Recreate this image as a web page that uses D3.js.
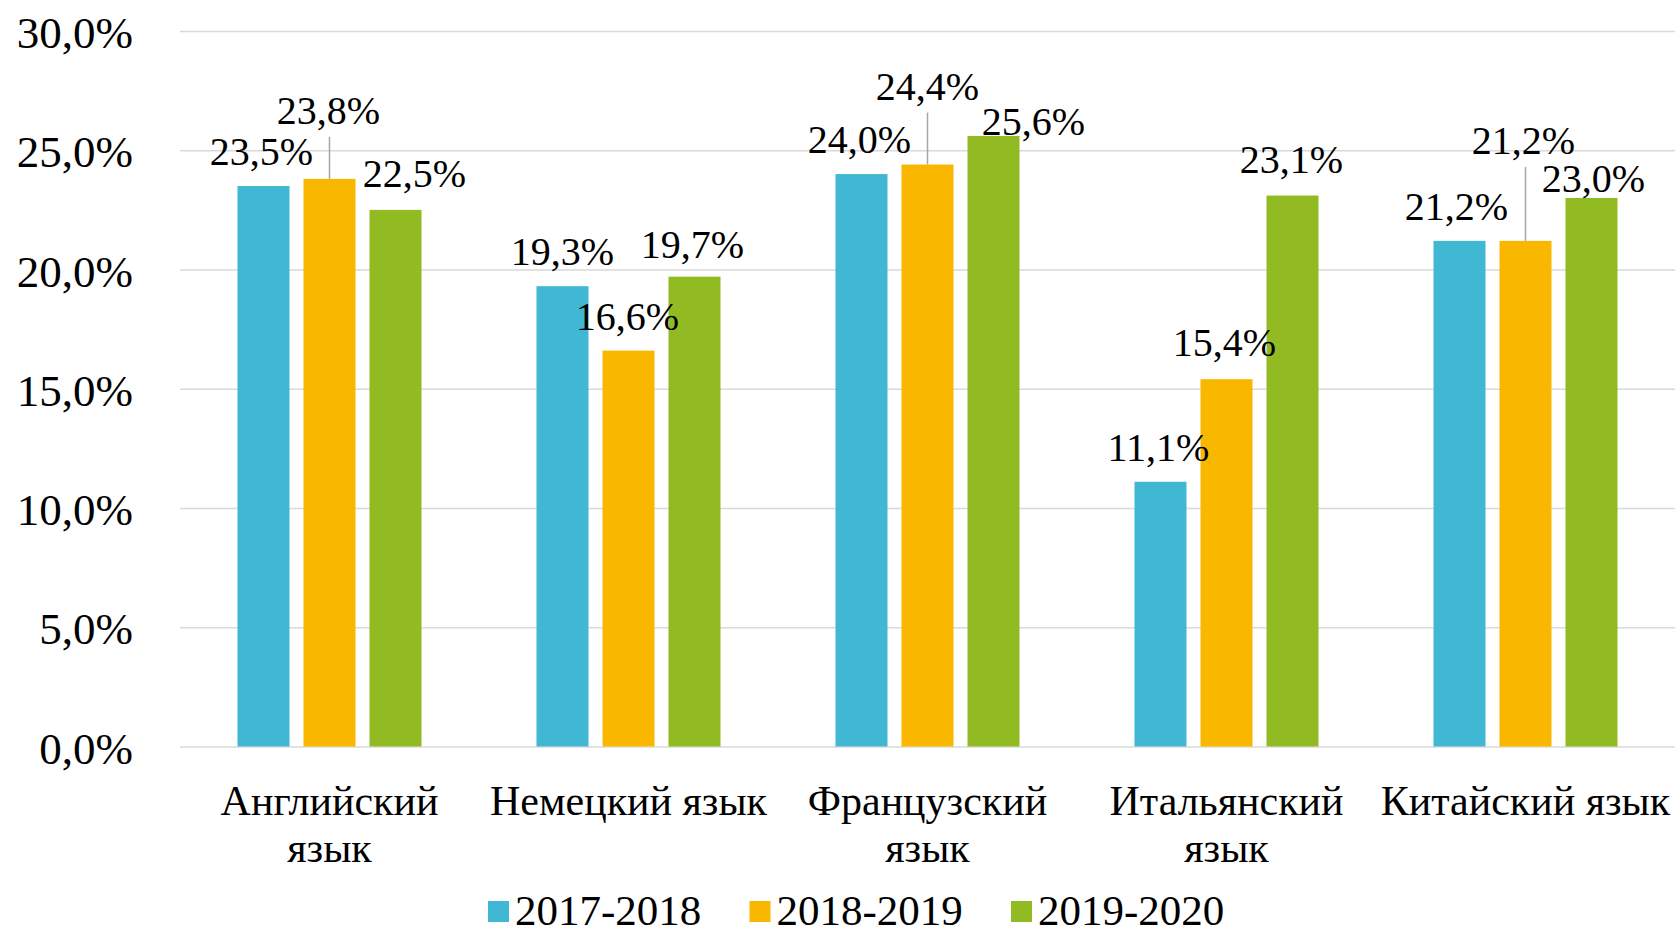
<!DOCTYPE html>
<html>
<head>
<meta charset="utf-8">
<script src="https://cdn.jsdelivr.net/npm/d3@7"></script>
<style>
  body { margin: 0; background: #fff; }
  text { font-family: "Liberation Serif", "Times New Roman", serif; fill: #000; }
</style>
</head>
<body>
<div class="chart"></div>
<script>
// data
var categories = [
  ["Английский", "язык"],
  ["Немецкий язык"],
  ["Французский", "язык"],
  ["Итальянский", "язык"],
  ["Китайский язык"]
];
var seriesNames = ["2017-2018", "2018-2019", "2019-2020"];
var values2017 = [0.235, 0.193, 0.240, 0.111, 0.212];
var values2018 = [0.238, 0.166, 0.244, 0.154, 0.212];
var values2019 = [0.225, 0.197, 0.256, 0.231, 0.230];
var yTicks = [0, 0.05, 0.10, 0.15, 0.20, 0.25, 0.30];

var colors = ["#41b8d3", "#f9b700", "#92bb23"];

// manual label moves (dx, dy) as in the original, per series / category
var labelMoves = [
  [[-2, 0], [0, 0], [-2, 0], [-2, 0], [-3, 0]],
  [[-1, -34], [-1, 0], [0, -44], [-2, -2], [-2, -66]],
  [[19, -2], [-2, 2], [40, 20], [-1, -2], [2, 15]]
];

var svgWidth = 1677, svgHeight = 936;
var margin = { top: 31, right: 2, bottom: 189.5, left: 180 };
var width = svgWidth - margin.left - margin.right;
var height = svgHeight - margin.top - margin.bottom;

var ru = d3.formatLocale({ decimal: ",", thousands: " ", grouping: [3], currency: ["", " ₽"] });
var pct = ru.format(".1%");

var svg = d3.select(".chart").append("svg")
  .attr("width", svgWidth)
  .attr("height", svgHeight);

var chartGroup = svg.append("g")
  .attr("transform", `translate(${margin.left}, ${margin.top})`);

var yScale = d3.scaleLinear().domain([0, 0.30]).range([height, 0]);

var x0 = d3.scaleBand()
  .domain(d3.range(categories.length))
  .range([0, width])
  .padding(0);

var x1 = d3.scaleBand()
  .domain(d3.range(seriesNames.length))
  .range([0, x0.bandwidth()])
  .paddingInner(0.212)
  .paddingOuter(0.871);

// y axis + gridlines
var yAxis = d3.axisLeft(yScale)
  .tickValues(yTicks)
  .tickSize(-width)
  .tickPadding(47)
  .tickFormat(pct);

var yG = chartGroup.append("g").call(yAxis);
yG.select(".domain").remove();
yG.selectAll(".tick line").attr("stroke", "#d9d9d9").attr("stroke-width", 1.6);
yG.selectAll(".tick text")
  .attr("font-family", "Liberation Serif, Times New Roman, serif")
  .attr("font-size", 45)
  .attr("fill", "#000")
  .attr("dy", "0.37em");

var series = [values2017, values2018, values2019];

var rows = [];
series.forEach(function(vals, s) {
  vals.forEach(function(v, c) {
    rows.push({ s: s, c: c, v: v });
  });
});

// bars
chartGroup.selectAll(".bar")
  .data(rows)
  .enter()
  .append("rect")
  .attr("class", "bar")
  .attr("x", d => x0(d.c) + x1(d.s))
  .attr("y", d => yScale(d.v))
  .attr("width", x1.bandwidth())
  .attr("height", d => height - yScale(d.v))
  .attr("fill", d => colors[d.s]);

// leader lines for moved labels
chartGroup.selectAll(".leader")
  .data(rows.filter(d => labelMoves[d.s][d.c][1] < -20))
  .enter()
  .append("line")
  .attr("class", "leader")
  .attr("x1", d => x0(d.c) + x1(d.s) + x1.bandwidth() / 2)
  .attr("x2", d => x0(d.c) + x1(d.s) + x1.bandwidth() / 2)
  .attr("y1", d => yScale(d.v) - 21 + labelMoves[d.s][d.c][1] + 13)
  .attr("y2", d => yScale(d.v))
  .attr("stroke", "#a6a6a6")
  .attr("stroke-width", 1.5);

// data labels
chartGroup.selectAll(".vlabel")
  .data(rows)
  .enter()
  .append("text")
  .attr("class", "vlabel")
  .attr("text-anchor", "middle")
  .attr("font-size", 40)
  .attr("x", d => x0(d.c) + x1(d.s) + x1.bandwidth() / 2 + labelMoves[d.s][d.c][0])
  .attr("y", d => yScale(d.v) - 21 + labelMoves[d.s][d.c][1])
  .text(d => pct(d.v));

// category labels
var catText = chartGroup.selectAll(".cat")
  .data(categories)
  .enter()
  .append("text")
  .attr("class", "cat")
  .attr("text-anchor", "middle")
  .attr("font-size", 42)
  .attr("x", (d, i) => x0(i) + x0.bandwidth() / 2)
  .attr("y", height + 68);

catText.selectAll("tspan")
  .data(d => d)
  .enter()
  .append("tspan")
  .attr("x", function() { return d3.select(this.parentNode).attr("x"); })
  .attr("dy", (d, i) => i === 0 ? 0 : 47)
  .text(d => d);

// legend
var legend = svg.append("g").attr("transform", "translate(488, 0)");
var item = legend.selectAll(".legend")
  .data(seriesNames)
  .enter()
  .append("g")
  .attr("class", "legend")
  .attr("transform", (d, i) => `translate(${i * 261.5}, 0)`);

item.append("rect")
  .attr("x", 0)
  .attr("y", 901)
  .attr("width", 21)
  .attr("height", 21)
  .attr("fill", (d, i) => colors[i]);

item.append("text")
  .attr("x", 27)
  .attr("y", 925)
  .attr("font-size", 43)
  .text(d => d);
</script>
</body>
</html>
